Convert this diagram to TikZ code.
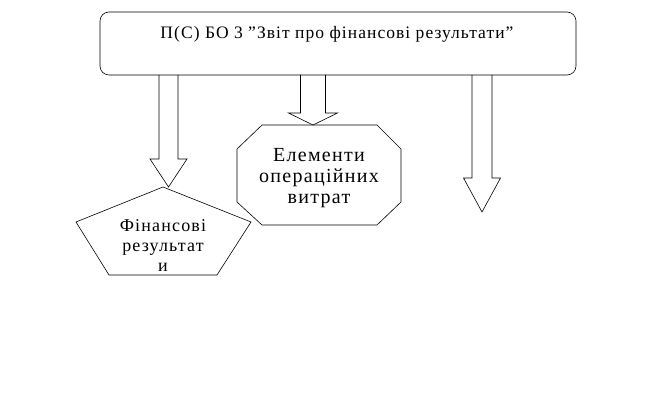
\documentclass[tikz,border=0pt]{standalone}
\usepackage{fontspec}
\setmainfont{Liberation Serif}
\usetikzlibrary{positioning,calc}

% block arrow: #1 centre x, #2 top, #3 neck, #4 tip, #5 shaft half width, #6 head half width
\newcommand{\blockarrow}[6]{%
  \draw[line] (#1-#5,#2) -- (#1-#5,#3) -- (#1-#6,#3) -- (#1,#4)
    -- (#1+#6,#3) -- (#1+#5,#3) -- (#1+#5,#2);
}

\begin{document}
\begin{tikzpicture}[
  x=1pt, y=-1pt,
  line/.style={draw=black, line width=0.6pt, line join=miter},
  lbl/.style={align=center, inner sep=0pt, anchor=base},
]
\useasboundingbox (0,0) rectangle (663,401);

% ---- the standard ------------------------------------------------------------
\draw[line, rounded corners=9pt] (100,12) rectangle (576,75);
\node[lbl, font=\fontsize{17.5}{21}\selectfont\addfontfeatures{LetterSpace=6}]
  (std) at (337,39) {П(С) БО 3 ”Звіт про фінансові результати”};

% ---- three block arrows ---------------------------------------------------------
\blockarrow{168.5}{75}{159}{187}{9.5}{18.5}
\blockarrow{313}{75}{113}{125}{12.5}{24.5}
\blockarrow{482}{75}{178}{212}{10}{18.5}

% ---- financial results (pentagon) ------------------------------------------------
\draw[line] (163,187) -- (251,222) -- (217,275) -- (109,275) -- (76,222) -- cycle;
\node[lbl, font=\fontsize{18}{20}\selectfont\addfontfeatures{LetterSpace=6.5}]
  (res) at (163,271) {Фінансові\\результат\\и};

% ---- operating costs (octagon) ----------------------------------------------------
\draw[line] (262,125) -- (377,125) -- (401,149) -- (401,202) -- (377,225)
  -- (262,225) -- (237,202) -- (237,149) -- cycle;
\node[lbl, font=\fontsize{20}{21}\selectfont\addfontfeatures{LetterSpace=6.5}]
  (ops) at (319,203) {Елементи\\операційних\\витрат};

\end{tikzpicture}
\end{document}
